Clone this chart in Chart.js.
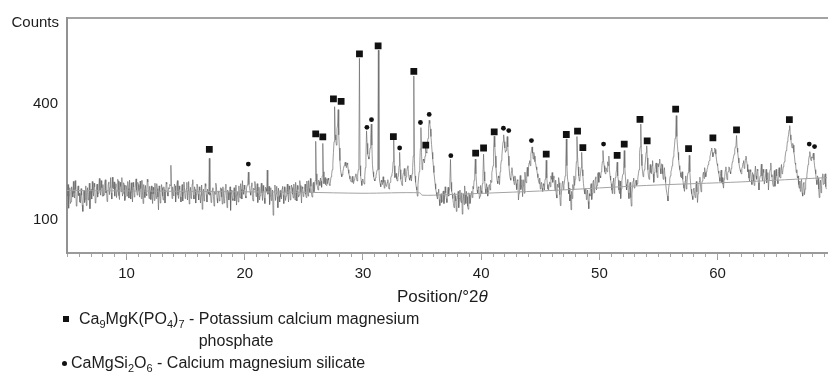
<!DOCTYPE html>
<html>
<head>
<meta charset="utf-8">
<script src="https://cdn.jsdelivr.net/npm/chart.js@4.4.1/dist/chart.umd.min.js"></script>
<style>
  html, body { margin: 0; padding: 0; background: #fff; }
  #wrap { position: relative; width: 832px; height: 376px; overflow: hidden; background: #fff;
          font-family: 'Liberation Sans', Arial, Helvetica, sans-serif; color: #1c1c1c; }
  #c { position: absolute; left: 0; top: 0; }
  .txt { position: absolute; white-space: nowrap; }
  #counts { left: 0; width: 59px; text-align: right; top: 13px; font-size: 15px; line-height: 18px; }
  #xtitle { left: 397px; top: 287px; font-size: 17px; line-height: 20px; }
  .leg { position: absolute; display: flex; align-items: flex-start; font-size: 16px; line-height: 22px; white-space: nowrap; }
  .leg sub { font-size: 11px; vertical-align: -4px; line-height: 0; }
  .mk { display: inline-block; flex: none; }
  .sq { width: 6px; height: 6px; background: #111; margin: 8px 10px 0 2px; }
  .dt { width: 5px; height: 5px; border-radius: 50%; background: #111; margin: 9px 4px 0 1px; }
</style>
</head>
<body>
<div id="wrap">
  <canvas id="c" width="832" height="376"></canvas>
  <div id="counts" class="txt">Counts</div>
  <div id="xtitle" class="txt">Position/°2<i>θ</i></div>
  <div class="leg" style="left:61px; top:308px;">
    <span class="mk sq"></span>
    <span>Ca<sub>9</sub>MgK(PO<sub>4</sub>)<sub>7</sub> -&nbsp;</span>
    <span>Potassium calcium magnesium<br>phosphate</span>
  </div>
  <div class="leg" style="left:61px; top:352px;">
    <span class="mk dt"></span>
    <span>CaMgSi<sub>2</sub>O<sub>6</sub> - Calcium magnesium silicate</span>
  </div>
</div>
<script>
// ---------------- data ----------------
const angleStart = 5.0;     // °2θ of the first sample
const angleStep = 0.05;     // sample spacing, °2θ
// measured counts, one row per degree (x.00 ... x.95)
const counts = [
  145,170,121,147,163,130,134,165,155,143,177,151,141,179,159,125,131,158,167,146, // 5
  151,133,131,161,147,127,115,149,157,132,139,167,126,153,163,137,144,173,120,156, // 6
  159,139,177,155,145,173,165,131,133,160,171,143,151,167,184,157,147,179,163,145, // 7
  170,145,148,174,181,152,157,134,139,172,176,148,164,186,152,139,187,163,160,176, // 8
  145,164,172,142,156,182,178,146,138,175,166,154,186,145,151,174,169,136,144,168, // 9
  163,145,177,161,141,180,157,139,174,153,133,175,165,143,153,169,183,157,147,175, // 10
  170,156,143,178,161,140,180,154,130,170,158,142,168,149,146,182,176,155,140,166, // 11
  156,138,167,149,130,164,150,136,173,152,140,172,161,143,118,167,154,131,144,170, // 12
  163,145,137,165,158,131,147,175,171,153,145,163,161,170,168,216,163,140,165,147, // 13
  146,171,167,133,151,170,179,147,140,167,159,143,133,157,170,135,152,176,163,140, // 14
  143,161,175,137,157,177,129,152,164,140,147,171,181,147,139,165,159,131,149,171, // 15
  169,149,137,165,157,131,147,169,119,151,160,135,143,172,166,148,133,160,153,149, // 16
  234,147,151,132,137,158,163,144,125,154,149,173,166,140,131,156,153,135,143,163, // 17
  161,143,129,165,151,131,140,163,171,146,122,158,153,137,145,165,117,151,158,140, // 18
  136,153,163,135,145,169,127,149,154,133,167,147,141,172,159,139,179,157,149,169, // 19
  159,145,141,162,169,172,199,170,164,154,147,167,174,142,135,162,158,177,168,144, // 20
  154,172,132,149,164,137,146,161,173,152,136,168,155,141,130,164,161,155,204,149, // 21
  151,166,128,145,163,136,142,158,108,133,156,169,136,150,166,144,122,162,146,133, // 22
  157,143,139,161,166,147,130,165,153,136,145,159,171,149,133,167,159,137,148,169, // 23
  163,149,141,171,153,137,175,156,135,168,159,143,147,179,168,151,131,165,161,144, // 24
  148,159,171,149,142,178,161,145,179,161,153,184,166,148,143,169,175,154,159,179, // 25
  281,195,170,165,158,180,176,168,185,178,164,190,275,200,172,180,186,170,168,183, // 26
  172,185,180,170,168,178,188,195,205,220,250,280,390,300,285,270,318,330,380,300, // 27
  262,228,205,195,188,192,200,208,215,220,224,215,210,222,218,205,196,190,183,178, // 28
  176,183,189,175,172,180,183,190,195,185,178,192,205,230,572,215,190,178,168,182, // 29
  180,176,171,190,210,240,312,275,245,238,232,245,262,290,333,270,218,200,188,182, // 30
  178,185,190,198,205,225,606,205,180,172,165,180,176,170,188,175,162,180,173,166, // 31
  168,175,181,165,160,172,175,185,190,195,200,225,285,215,186,190,196,183,178,187, // 32
  190,215,250,205,182,175,168,185,196,202,208,190,176,188,200,210,215,195,185,180, // 33
  192,185,178,195,210,240,501,230,190,175,165,158,145,170,185,200,215,260,322,250, // 34
  205,218,232,228,222,240,262,250,248,275,290,320,345,335,318,295,272,250,232,215, // 35
  198,185,172,160,153,145,139,153,160,138,126,145,150,132,135,153,156,130,143,165, // 36
  152,140,132,152,164,145,160,178,231,175,155,150,140,130,122,152,146,135,115,138, // 37
  142,155,122,140,158,137,132,152,110,134,150,128,167,148,130,155,144,125,119,152, // 38
  148,130,137,150,155,142,166,160,180,200,232,195,175,158,150,165,163,140,145,168, // 39
  156,150,172,195,245,200,178,160,150,172,164,145,155,168,170,158,180,175,198,205, // 40
  215,260,296,265,240,210,190,178,172,190,185,170,200,215,228,240,262,280,300,280, // 41
  262,250,255,272,295,265,240,215,195,185,180,200,210,195,188,178,170,190,183,172, // 42
  159,181,179,137,151,169,191,159,167,181,144,167,181,151,199,179,174,197,211,189, // 43
  210,222,228,215,245,255,265,248,232,250,240,225,222,212,205,195,186,178,172,185, // 44
  160,170,175,162,155,172,168,158,182,190,229,185,170,160,158,172,176,165,190,182, // 45
  198,175,185,190,168,156,180,148,141,171,164,186,174,148,126,141,156,174,178,159, // 46
  168,178,190,220,288,215,185,175,150,162,135,148,118,155,140,170,158,190,168,182, // 47
  198,225,295,240,212,190,178,185,195,210,250,205,190,172,160,150,150,162,138,145, // 48
  158,134,120,150,145,165,172,138,150,175,180,152,160,184,188,158,168,195,198,175, // 49
  198,190,185,200,210,225,255,228,215,200,195,210,205,200,225,215,240,205,190,180, // 50
  172,158,150,178,185,150,165,186,195,205,224,190,180,158,150,178,140,160,178,190, // 51
  195,215,255,210,188,170,158,175,182,152,140,168,175,142,125,150,165,178,185,162, // 52
  165,175,180,168,172,185,195,205,250,265,333,245,215,200,188,198,205,215,230,250, // 53
  268,235,205,190,182,205,218,198,195,215,228,195,175,198,205,218,222,198,186,220, // 54
  212,222,232,208,195,220,218,195,182,202,210,188,175,160,160,145,135,160,170,182, // 55
  190,200,205,215,225,238,250,268,290,305,360,295,270,250,230,215,205,198,188,185, // 56
  200,182,172,162,155,178,190,160,170,190,198,210,242,200,178,160,150,145,138,160, // 57
  162,150,142,166,177,154,132,151,166,177,187,169,154,172,178,192,199,184,210,198, // 58
  188,200,205,210,218,225,228,238,245,255,262,250,238,245,250,262,258,245,232,220, // 59
  215,202,196,186,177,196,204,174,186,171,162,182,189,204,212,192,181,196,201,212, // 60
  210,200,195,208,215,225,230,238,245,258,265,268,298,262,250,235,222,212,205,200, // 61
  195,208,212,222,228,208,215,232,240,228,218,200,205,185,178,205,200,180,170,198, // 62
  193,177,168,198,214,190,182,206,203,174,158,182,190,203,219,190,178,206,198,171, // 63
  171,190,206,174,184,198,158,182,198,206,222,193,187,174,166,190,203,166,180,206, // 64
  190,180,172,200,210,188,185,203,218,195,198,212,220,225,235,248,255,262,280,290, // 65
  300,315,328,300,285,270,262,275,270,250,240,222,218,198,205,185,190,170,162,178, // 66
  155,175,182,152,145,172,175,148,160,178,185,192,205,218,230,240,252,235,228,238, // 67
  235,242,248,230,215,205,195,180,170,190,185,160,142,172,180,152,168,188,195,170, // 68
  172,190,195,165,160                                                              // 69.00-69.20
];

// fitted background curve
const bgAngles = [4.96, 15, 25, 30, 34.8, 35.0, 37, 46, 54, 62, 69.27];
const bgCounts = [157, 155, 153, 151, 152, 147, 148, 157, 168, 176, 186];

// phase markers (position, marker height in counts)
const squareAngles = [17.0, 26.0, 26.6, 27.5, 28.15, 29.7, 31.28, 32.57, 34.3, 35.31, 39.53, 40.2, 41.1, 45.5, 47.2, 48.15, 48.6, 51.5, 52.1, 53.43, 54.04, 56.45, 57.54, 59.6, 61.6, 66.07];
const squareCounts = [258, 303, 294, 417, 408, 590, 624, 295, 519, 270, 248, 262, 309, 245, 301, 311, 263, 242, 273, 348, 282, 382, 260, 291, 315, 347];
const dotAngles = [20.3, 30.33, 30.72, 33.1, 34.86, 35.6, 37.43, 41.88, 42.33, 44.25, 50.35, 67.75, 68.2];
const dotCounts = [219, 323, 347, 262, 338, 364, 241, 320, 313, 283, 273, 273, 266];

// axes
const xMin = 4.96, xMax = 69.27;
const xTickLabels = [10, 20, 30, 40, 50, 60];
const yMin = 51, yMax = 750;
const yTicks = [100, 400];

// ---------------- square-root count scale ----------------
class SqrtScale extends Chart.LinearScale {
  static id = 'sqrt';
  static defaults = Chart.LinearScale.defaults;
  getPixelForValue(value) {
    const a = Math.sqrt(this.min), b = Math.sqrt(this.max);
    return this.getPixelForDecimal((Math.sqrt(Math.max(value, 0)) - a) / (b - a));
  }
  getValueForPixel(pixel) {
    const a = Math.sqrt(this.min), b = Math.sqrt(this.max);
    const s = a + this.getDecimalForPixel(pixel) * (b - a);
    return s * s;
  }
}
Chart.register(SqrtScale);

const FONT = "'Liberation Sans', Arial, Helvetica, sans-serif";
const trace = counts.map((c, i) => ({ x: +(angleStart + i * angleStep).toFixed(2), y: c }));
const bg = bgAngles.map((a, i) => ({ x: a, y: bgCounts[i] }));
const sq = squareAngles.map((a, i) => ({ x: a, y: squareCounts[i] }));
const dt = dotAngles.map((a, i) => ({ x: a, y: dotCounts[i] }));

new Chart(document.getElementById('c'), {
  type: 'line',
  data: {
    datasets: [
      { label: 'pattern', data: trace, borderColor: 'rgba(100,100,100,0.64)', borderWidth: 1, pointRadius: 0, tension: 0, order: 3 },
      { label: 'background', data: bg, borderColor: '#a3a3a3', borderWidth: 1, pointRadius: 0, tension: 0.3, order: 2 },
      { type: 'scatter', label: 'Ca9MgK(PO4)7', data: sq, pointStyle: 'rect', pointRadius: 4.8, backgroundColor: '#111', borderWidth: 0, order: 1 },
      { type: 'scatter', label: 'CaMgSi2O6', data: dt, pointStyle: 'circle', pointRadius: 2.4, backgroundColor: '#111', borderWidth: 0, order: 0 }
    ]
  },
  options: {
    responsive: false,
    animation: false,
    devicePixelRatio: 1,
    events: [],
    layout: { padding: { top: 12, left: 0, right: 0, bottom: 0 } },
    plugins: { legend: { display: false }, tooltip: { enabled: false } },
    scales: {
      x: {
        type: 'linear', position: 'bottom', weight: 1, min: xMin, max: xMax,
        afterBuildTicks: s => { s.ticks = xTickLabels.map(v => ({ value: v })); },
        ticks: { padding: 5, color: '#1c1c1c', font: { family: FONT, size: 15 }, maxRotation: 0, autoSkip: false, callback: v => String(v) },
        grid: { display: true, drawOnChartArea: false, drawTicks: true, tickLength: 7, tickColor: '#9a9a9a', lineWidth: 1 },
        border: { display: true, color: '#9a9a9a', width: 2 },
        afterFit: s => { s.height = 123; }
      },
      xm: {
        type: 'linear', position: 'bottom', weight: 0, min: xMin, max: xMax,
        ticks: { stepSize: 1, includeBounds: false, display: false },
        grid: { display: true, drawOnChartArea: false, drawTicks: true, tickLength: 4, tickColor: '#a5a5a5', lineWidth: 1 },
        border: { display: false },
        afterFit: s => { s.height = 0; }
      },
      xt: {
        type: 'linear', position: 'top', min: xMin, max: xMax,
        ticks: { display: false },
        grid: { display: false, drawTicks: false },
        border: { display: true, color: '#a3a3a3', width: 2 },
        afterFit: s => { s.height = 0; }
      },
      y: {
        type: 'sqrt', min: yMin, max: yMax, bounds: 'data',
        afterBuildTicks: s => { s.ticks = yTicks.map(v => ({ value: v })); },
        ticks: { padding: 9, color: '#1c1c1c', font: { family: FONT, size: 15 }, callback: v => String(v) },
        grid: { display: false, drawTicks: false },
        border: { display: true, color: '#929292', width: 2 },
        afterFit: s => { s.width = 67; }
      }
    }
  }
});
</script>
</body>
</html>
